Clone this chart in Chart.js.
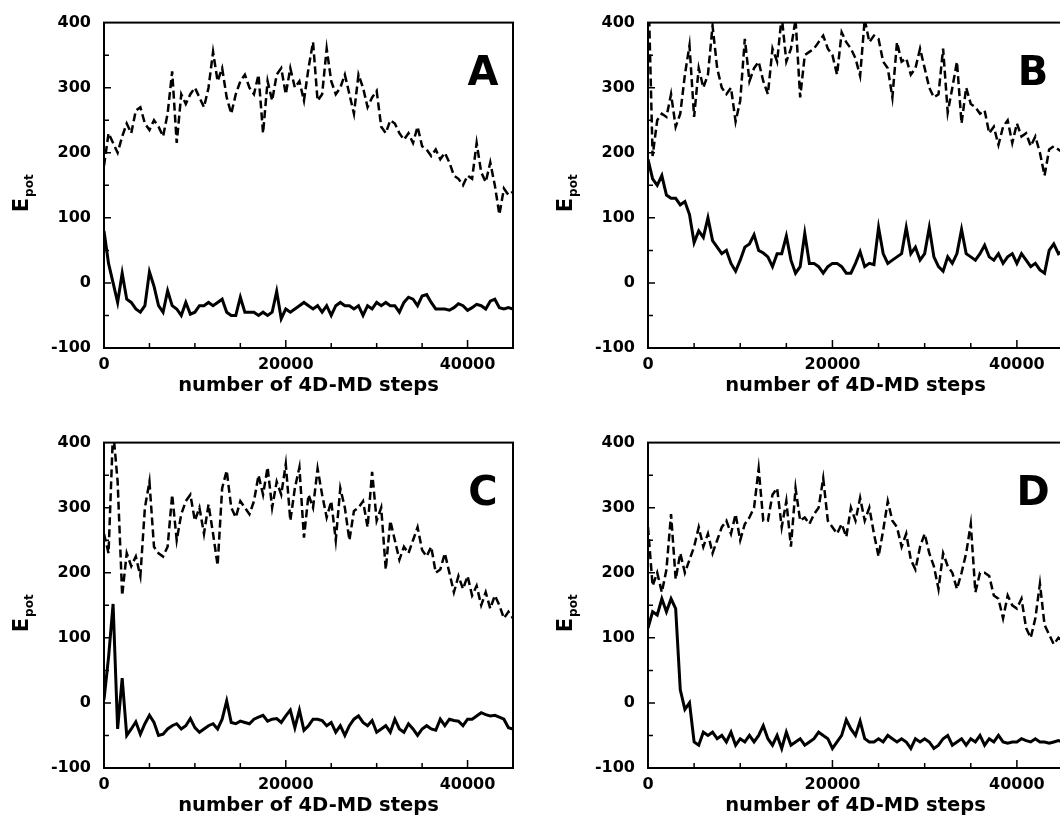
<!DOCTYPE html>
<html>
<head>
<meta charset="utf-8">
<script src="https://cdn.jsdelivr.net/npm/chart.js@4.4.1/dist/chart.umd.min.js"></script>
<style>
  body { margin: 0; background: #fff; width: 1060px; height: 820px; overflow: hidden; position: relative; }
  canvas { position: absolute; }
</style>
</head>
<body>
<canvas id="panelA" width="520" height="400" style="left:0;top:0"></canvas>
<canvas id="panelB" width="540" height="400" style="left:530px;top:0"></canvas>
<canvas id="panelC" width="520" height="400" style="left:0;top:420px"></canvas>
<canvas id="panelD" width="540" height="400" style="left:530px;top:420px"></canvas>
<script>
// x grid: one reading every 500 steps, 0 .. 45000
const steps = [];
for (let s = 0; s <= 45000; s += 500) steps.push(s);

const xTicks = [0, 20000, 40000];
const yTicks = [-100, 0, 100, 200, 300, 400];

// values (E_pot), dashed and solid curve of each panel
const dashedA = [
  180, 230, 215, 200, 225, 245, 230, 265, 270, 245,
  235, 250, 240, 225, 260, 325, 215, 290, 275, 290,
  300, 285, 270, 300, 355, 310, 330, 285, 260, 290,
  310, 320, 300, 290, 320, 230, 310, 280, 320, 330,
  290, 330, 300, 310, 280, 330, 370, 280, 290, 360,
  310, 290, 300, 320, 290, 260, 320, 300, 270, 285,
  295, 240, 230, 250, 245, 230, 220, 230, 215, 240,
  210, 205, 195, 205, 190, 200, 185, 165, 160, 150,
  165, 160, 215, 170, 155, 185, 150, 105, 145, 135,
  140
];
const solidA = [
  80, 30, 0, -30, 15, -25, -30, -40, -45, -35,
  17, -5, -35, -45, -12, -35, -40, -50, -30, -48,
  -45, -35, -35, -30, -35, -30, -25, -45, -50, -50,
  -22, -45, -45, -45, -50, -45, -50, -45, -13, -55,
  -40, -45, -40, -35, -30, -35, -40, -35, -45, -35,
  -50, -35, -30, -35, -35, -40, -35, -50, -35, -40,
  -30, -35, -30, -35, -35, -45, -30, -22, -25, -35,
  -20, -18, -30, -40, -40, -40, -42, -38, -32, -35,
  -42, -38, -33, -35, -40, -28, -25, -38, -40, -38,
  -40
];

const dashedB = [
  480, 195, 250, 260, 255, 290, 240, 260, 320, 365,
  255, 330, 300, 320, 395, 330, 300, 290, 300, 248,
  280, 375, 310, 330, 340, 310, 290, 360, 340, 410,
  340, 360, 405, 285, 350, 355, 360, 370, 380, 360,
  350, 320, 385, 370, 360, 345, 318, 405, 370, 380,
  375, 340, 330, 285, 370, 340, 345, 320, 330, 360,
  330, 300, 285, 290, 360, 262, 300, 340, 245, 300,
  275, 270, 260, 265, 230, 240, 212, 240, 250, 215,
  245, 225, 230, 210, 225, 200, 165, 205, 210, 205,
  200
];
const solidB = [
  190, 160, 150, 165, 135, 130, 130, 120, 125, 105,
  62, 80, 70, 100, 65, 55, 45, 50, 30, 18,
  35, 55, 60, 74, 50, 46, 40, 25, 45, 45,
  72, 35, 15, 25, 76, 30, 30, 25, 15, 25,
  30, 30, 25, 15, 15, 30, 48, 25, 30, 28,
  85, 45, 30, 35, 40, 45, 85, 45, 55, 35,
  45, 85, 40, 25, 18, 40, 30, 45, 82, 45,
  40, 35, 45, 58, 40, 35, 45, 30, 40, 45,
  30, 45, 35, 25, 30, 20, 15, 50, 60, 45,
  50
];

const dashedC = [
  260, 230, 420, 340, 165, 230, 210, 225, 195, 300,
  340, 240, 230, 225, 240, 320, 250, 290, 310, 320,
  280, 300, 260, 305, 260, 211, 330, 357, 300, 285,
  310, 300, 290, 310, 350, 320, 362, 300, 340, 320,
  367, 280, 330, 362, 254, 320, 300, 360, 320, 285,
  310, 250, 330, 300, 250, 295, 300, 310, 270, 355,
  280, 300, 205, 280, 250, 220, 240, 230, 250, 270,
  235, 225, 240, 200, 205, 230, 200, 170, 195, 175,
  195, 165, 180, 150, 170, 145, 165, 150, 130, 140,
  130
];
const solidC = [
  5, 70, 152, -40, 38, -50, -40, -29, -48, -32,
  -19, -30, -50, -48, -40, -35, -32, -40, -35, -24,
  -38, -45, -40, -35, -32, -40, -25, 3, -30, -32,
  -28, -30, -32, -25, -22, -19, -28, -25, -24, -30,
  -20, -11, -38, -11, -42, -35, -25, -25, -27, -35,
  -30, -45, -35, -50, -35, -25, -20, -30, -35, -27,
  -45, -40, -35, -45, -25, -40, -45, -32, -40, -50,
  -40, -35, -40, -42, -25, -35, -25, -27, -28, -35,
  -25, -25, -20, -15, -18, -20, -19, -22, -25, -38,
  -40
];

const dashedD = [
  270, 180, 200, 170, 205, 290, 190, 230, 200, 220,
  240, 270, 240, 260, 230, 250, 270, 280, 260, 290,
  250, 275, 285, 300, 360, 280, 280, 320, 330, 270,
  310, 240, 330, 280, 285, 275, 290, 300, 345, 280,
  270, 260, 275, 255, 300, 280, 315, 280, 300, 260,
  225, 265, 310, 280, 270, 240, 260, 220, 205, 240,
  260, 230, 210, 175, 230, 210, 200, 175, 200, 230,
  275, 170, 200, 200, 195, 165, 160, 130, 165, 150,
  145, 160, 115, 100, 130, 183, 120, 105, 90, 100,
  95
];
const solidD = [
  115, 140, 135, 160, 140, 160, 145, 20, -10, 0,
  -60, -65, -45, -50, -45, -55, -50, -60, -45, -65,
  -55, -60, -50, -60, -50, -35, -55, -65, -50, -70,
  -45, -65, -60, -55, -65, -60, -55, -45, -50, -55,
  -70, -60, -50, -26, -40, -50, -28, -55, -60, -60,
  -55, -60, -50, -55, -60, -55, -60, -70, -55, -60,
  -55, -60, -70, -65, -55, -50, -65, -60, -55, -65,
  -55, -60, -50, -65, -55, -60, -50, -60, -62, -60,
  -60, -55, -58, -60, -55, -60, -60, -62, -60, -58,
  -60
];

Chart.defaults.font.family = '"DejaVu Sans", sans-serif';
Chart.defaults.color = '#000';

// frame, inner tick marks, E_pot title and panel letter
const framePlugin = {
  id: 'frame',
  afterDraw(chart, args, opts) {
    const { ctx, chartArea: a, scales: { x, y } } = chart;
    ctx.save();
    ctx.strokeStyle = '#000';
    ctx.lineWidth = 2;
    ctx.strokeRect(a.left, a.top, a.right - a.left, a.bottom - a.top);

    ctx.lineWidth = 1.5;
    ctx.beginPath();
    for (let v = -50; v < 400; v += 50) {
      const py = y.getPixelForValue(v);
      ctx.moveTo(a.left, py);
      ctx.lineTo(a.left + (v % 100 === 0 ? 7 : 5), py);
    }
    for (let v = 5000; v < 45000; v += 5000) {
      const px = x.getPixelForValue(v);
      ctx.moveTo(px, a.bottom);
      ctx.lineTo(px, a.bottom - (v % 20000 === 0 ? 8 : 5));
    }
    ctx.stroke();

    // y title: E with subscript pot
    ctx.fillStyle = '#000';
    ctx.translate(a.left - 76, (a.top + a.bottom) / 2 + 8);
    ctx.rotate(-Math.PI / 2);
    ctx.textBaseline = 'alphabetic';
    ctx.textAlign = 'left';
    ctx.font = 'bold 21px "DejaVu Sans"';
    const wE = ctx.measureText('E').width;
    ctx.font = 'bold 12px "DejaVu Sans"';
    const wp = ctx.measureText('pot').width;
    const x0 = -(wE + 1 + wp) / 2;
    ctx.font = 'bold 21px "DejaVu Sans"';
    ctx.fillText('E', x0, 0);
    ctx.font = 'bold 12px "DejaVu Sans"';
    ctx.fillText('pot', x0 + wE + 1, 5);
    ctx.restore();

    ctx.save();
    ctx.fillStyle = '#000';
    ctx.font = 'bold 40px "DejaVu Sans"';
    ctx.textAlign = 'center';
    ctx.textBaseline = 'middle';
    ctx.fillText(opts.letter, a.right - 30, a.top + 52);
    ctx.restore();
  }
};

const tickFont = { family: '"DejaVu Sans"', weight: 'bold', size: 16 };

function makePanel(id, letter, dashed, solid, axisWidth) {
  new Chart(document.getElementById(id), {
    type: 'line',
    data: {
      datasets: [
        {
          data: steps.map((s, i) => ({ x: s, y: dashed[i] })),
          borderColor: '#000',
          borderWidth: 2.5,
          borderDash: [8, 4],
          pointRadius: 0,
          tension: 0
        },
        {
          data: steps.map((s, i) => ({ x: s, y: solid[i] })),
          borderColor: '#000',
          borderWidth: 3,
          pointRadius: 0,
          tension: 0
        }
      ]
    },
    options: {
      responsive: false,
      animation: false,
      events: [],
      layout: { padding: { top: 22, right: 7, left: 0, bottom: 0 } },
      plugins: {
        legend: { display: false },
        tooltip: { enabled: false },
        frame: { letter: letter }
      },
      scales: {
        x: {
          type: 'linear',
          min: 0,
          max: 45000,
          afterFit: s => { s.height = 52; },
          afterBuildTicks: s => { s.ticks = xTicks.map(v => ({ value: v })); },
          grid: { display: false, drawTicks: false },
          border: { display: false },
          ticks: {
            maxRotation: 0,
            autoSkip: false,
            padding: 7,
            color: '#000',
            font: tickFont,
            callback: v => String(v)
          },
          title: {
            display: true,
            text: 'number of 4D-MD steps',
            color: '#000',
            font: { family: '"DejaVu Sans"', weight: 'bold', size: 19.5 },
            padding: { top: 0, bottom: 2 }
          }
        },
        y: {
          min: -100,
          max: 400,
          afterFit: s => { s.width = axisWidth; },
          afterBuildTicks: s => { s.ticks = yTicks.map(v => ({ value: v })); },
          grid: { display: false, drawTicks: false },
          border: { display: false },
          ticks: {
            padding: 13,
            color: '#000',
            font: tickFont,
            callback: v => String(v)
          }
        }
      }
    },
    plugins: [framePlugin]
  });
}

makePanel('panelA', 'A', dashedA, solidA, 104);
makePanel('panelB', 'B', dashedB, solidB, 118);
makePanel('panelC', 'C', dashedC, solidC, 104);
makePanel('panelD', 'D', dashedD, solidD, 118);
</script>
</body>
</html>
